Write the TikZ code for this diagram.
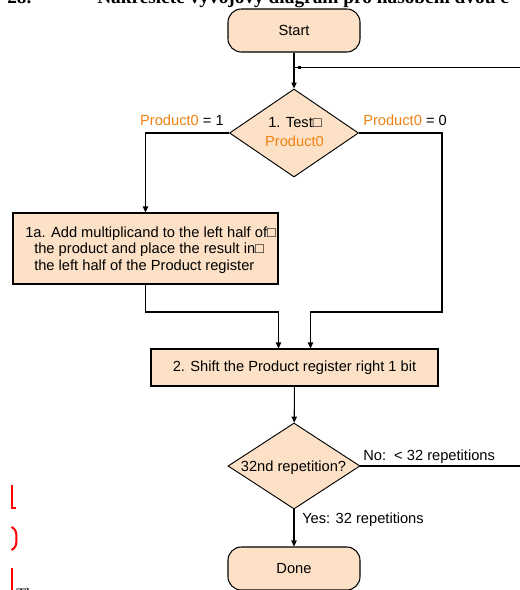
\documentclass[tikz,border=0pt]{standalone}
\usepackage{fontspec}
\setmainfont{Liberation Sans}
\newfontfamily\hdrfont{Liberation Serif}
\usetikzlibrary{shapes.geometric,arrows.meta,calc}
\definecolor{boxfill}{RGB}{252,225,198}
\definecolor{prodorange}{RGB}{240,130,20}
\definecolor{markred}{RGB}{255,0,0}
\begin{document}
\begin{tikzpicture}[x=0.75pt,y=-0.75pt,
  every node/.style={font=\fontsize{11}{12.4}\selectfont, inner sep=0pt},
  term/.style={draw, fill=boxfill, rounded corners=10pt, minimum width=99pt, minimum height=32.25pt, line width=0.8pt},
  procbox/.style={draw, fill=boxfill, line width=0.8pt},
  decision/.style={draw, fill=boxfill, diamond, line width=0.7pt},
  flow/.style={line width=0.8pt},
  arr/.style={flow, -{Triangle[length=4.5pt,width=4pt]}},
  lbl/.style={anchor=base west},
  ctr/.style={anchor=base},
  hdr/.style={font=\hdrfont\bfseries\fontsize{14.5}{16}\selectfont, anchor=base west},
  body/.style={font=\hdrfont\fontsize{12}{14}\selectfont, anchor=base west},
  redmark/.style={draw=markred, line width=1.5pt},
]
\useasboundingbox (0,0) rectangle (520,590);
\clip (0,0) rectangle (520,590);
\fill[white] (0,0) rectangle (520,590);

% cut-off header and body text
\node[hdr] (h1) at (7,3) {28.};
\node[hdr] (h2) at (97,3) {Nakreslete vývojový diagram pro násobení dvou č};
\node[body] (t1) at (16,599) {Th};

% red revision marks
\draw[redmark] (11.5,485) -- (11.5,507.5) -- (15.5,507.5);
\draw[redmark] (11.5,527) .. controls (16,529) and (16.5,533) .. (16.5,538.5) .. controls (16.5,544) and (16,548) .. (11.5,550);
\draw[redmark] (11.5,568) -- (11.5,592);

% nodes
\node[term] (start) at (294,30.5) {Start};
\node[decision, minimum width=96.75pt, minimum height=66pt] (d1) at (294,133) {};
\node[ctr] (d1a) at (295,127) {1. Test□};
\node[ctr, text=prodorange] (d1b) at (294.5,146) {Product0};

\node[procbox, minimum width=198.75pt, minimum height=53.25pt] (b1) at (145.5,248.5) {};
\node[lbl] (b1a) at (25,237) {1a. Add multiplicand to the left half of□};
\node[lbl] (b1b) at (34,253.5) {the product and place the result in□};
\node[lbl] (b1c) at (34,270) {the left half of the Product register};

\node[procbox, minimum width=215.25pt, minimum height=27.75pt] (b2) at (294.5,367.5) {2. Shift the Product register right 1 bit};

\node[decision, minimum width=99pt, minimum height=64.5pt] (d2) at (294,466) {};
\node[ctr] (d2t) at (293.5,471) {32nd repetition?};

\node[term] (done) at (294,568.5) {Done};

% labels
\node[anchor=base east] (l1) at (224,125) {\textcolor{prodorange}{Product0} = 1};
\node[lbl] (l0) at (363,125) {\textcolor{prodorange}{Product0} = 0};
\node[lbl] (lno) at (363,460) {No:\ \ < 32 repetitions};
\node[lbl] (lyes) at (302,523) {Yes: 32 repetitions};

% helper coordinates
\coordinate (j) at (294,67.5);
\coordinate (rowy) at (0,312);
\coordinate (rx) at (442,312);
\coordinate (far) at (528,466);

% connectors
\draw[arr] (start) -- (d1);
\draw[arr] (d1.west) -| (b1.north);
\draw[arr] (d1.east) -| (rx) -| ($(b2.north)+(16,0)$);
\draw[arr] (b1.south) -- (b1.south |- rowy) -| ($(b2.north)+(-16,0)$);
\draw[arr] (b2) -- (d2);
\draw[arr] (d2) -- (done);
\draw[flow] (d2.east) -- (far) |- (j);
\fill (297.5,66) rectangle (300.5,69);
\end{tikzpicture}
\end{document}
